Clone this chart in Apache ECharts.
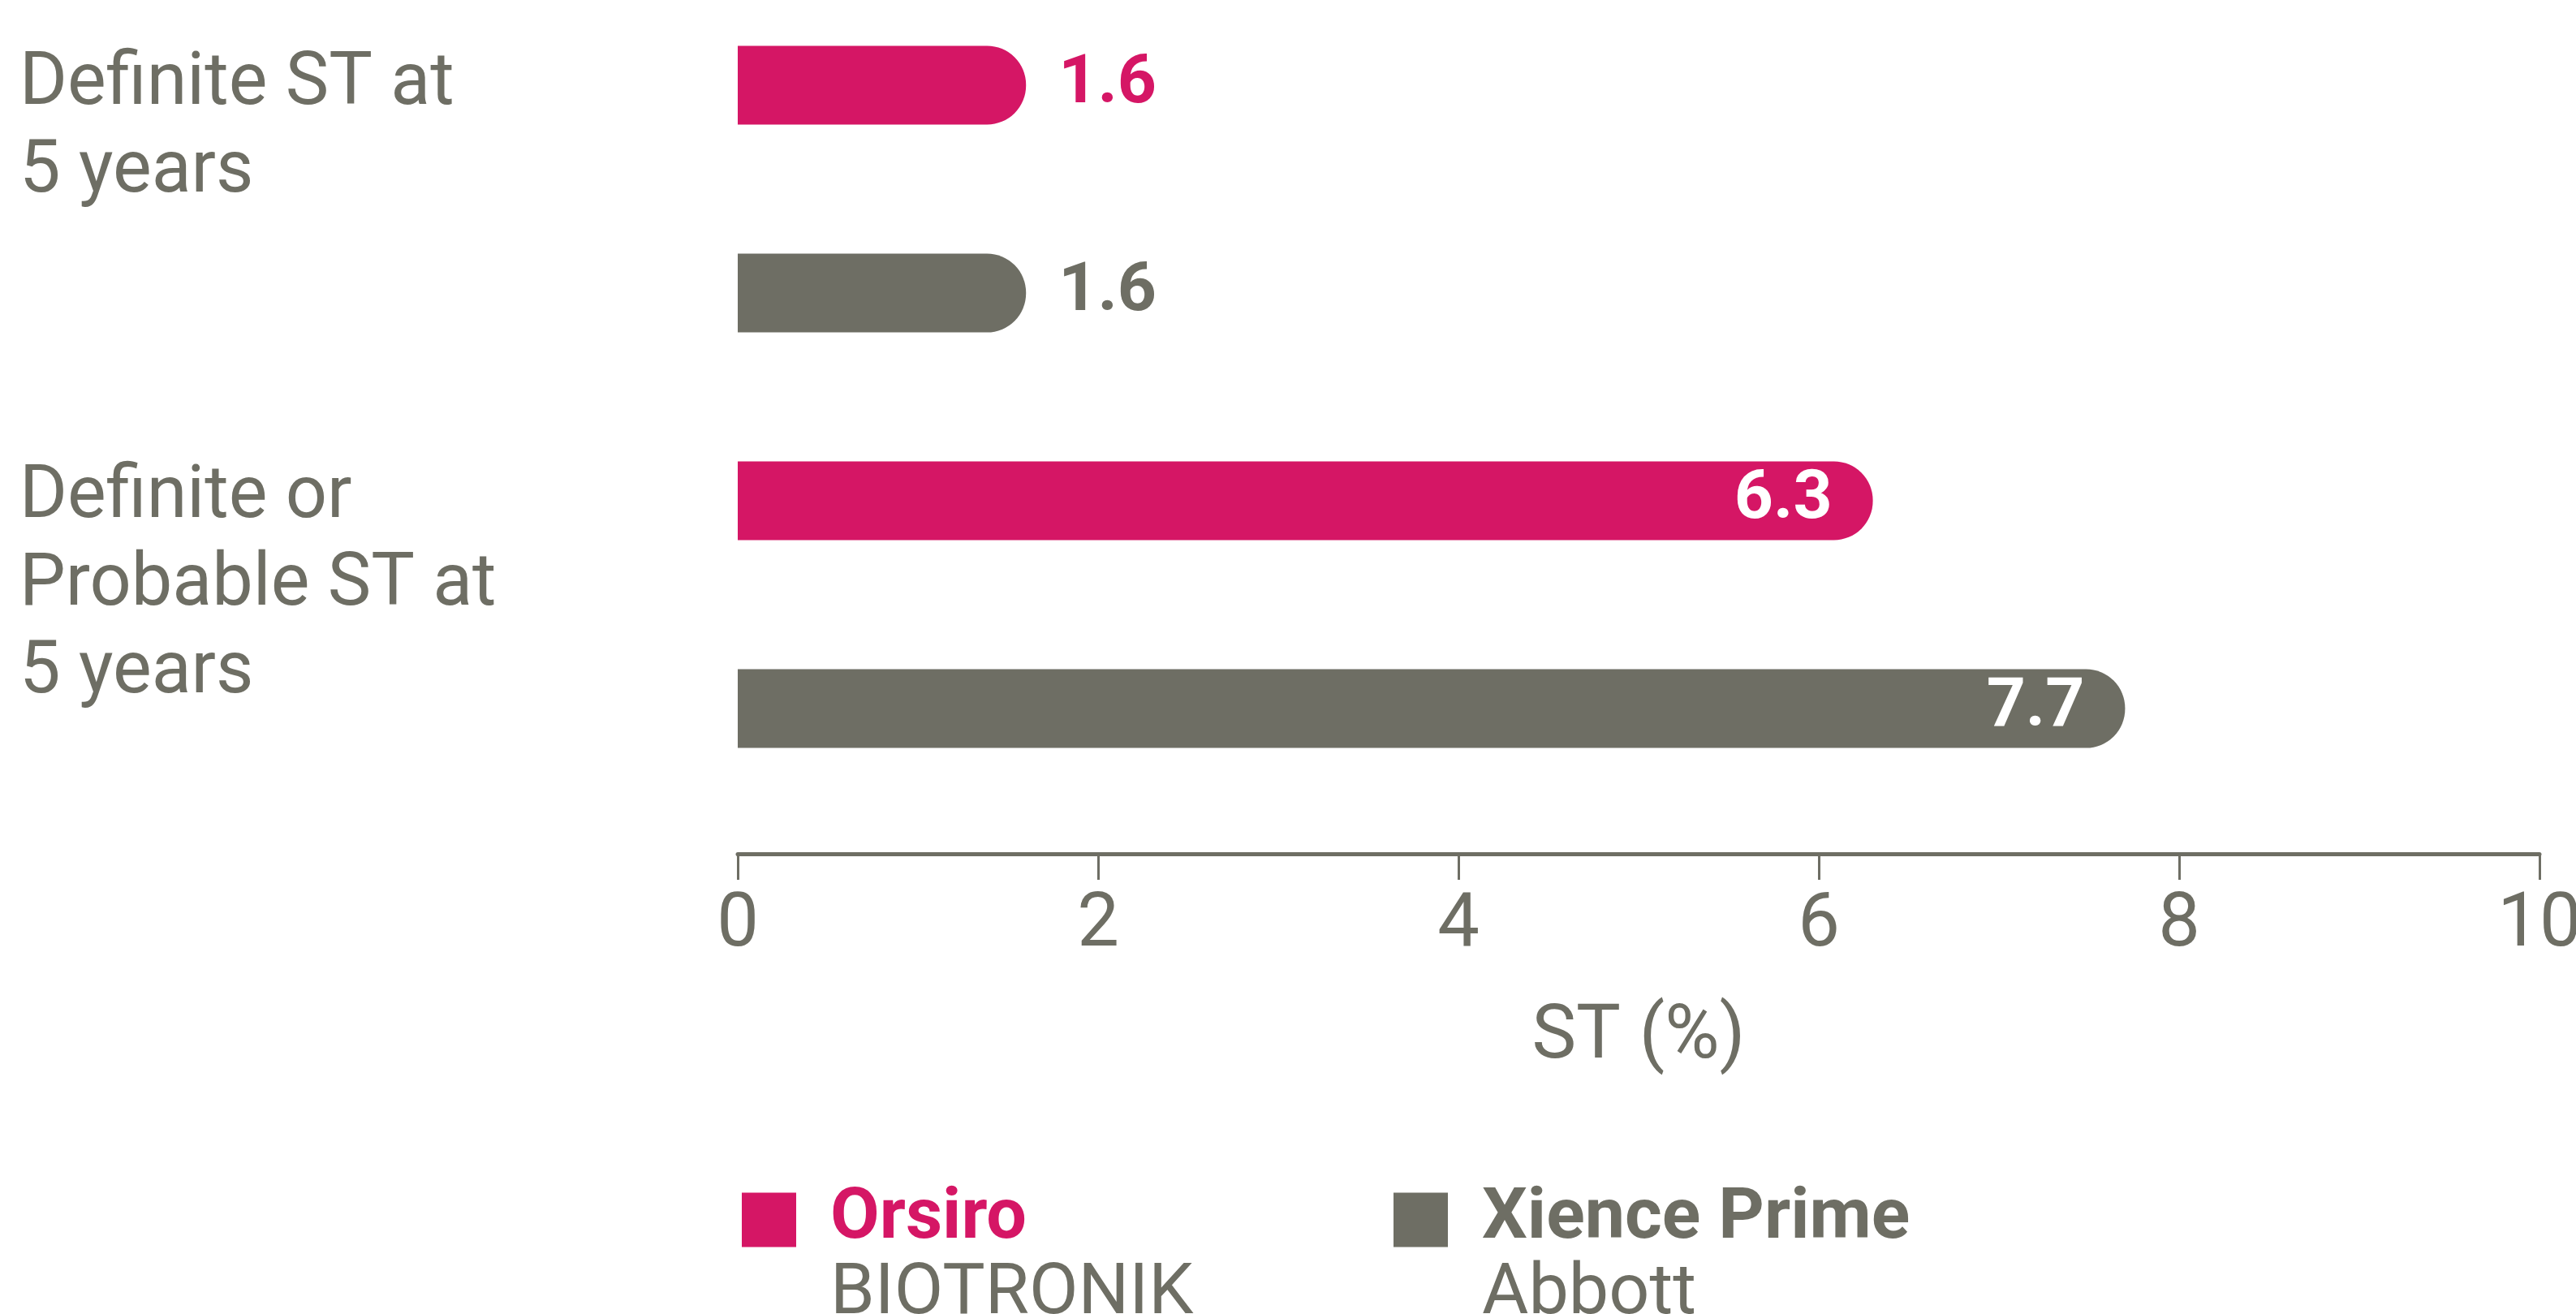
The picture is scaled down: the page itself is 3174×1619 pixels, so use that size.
<!DOCTYPE html>
<html>
<head>
<meta charset="utf-8">
<script src="https://cdn.jsdelivr.net/npm/echarts@6/dist/echarts.min.js"></script>
<style>
  html, body { margin: 0; padding: 0; background: #fff; }
  #chart { width: 3174px; height: 1619px; }
</style>
</head>
<body>
<div id="chart"></div>
<script>
// categories (top to bottom) and series values, ST in %
const categories = ['Definite ST at\n5 years', 'Definite or\nProbable ST at\n5 years'];
const orsiroValues = [1.6, 6.3];
const xienceValues = [1.6, 7.7];
const seriesNames = ['Orsiro', 'Xience Prime'];
const makers = ['BIOTRONIK', 'Abbott'];
const xTicks = [0, 2, 4, 6, 8, 10];
const axisName = 'ST (%)';

const PINK = '#d51665';
const GREY = '#6e6e64';
const FONT = 'Roboto';

const chart = echarts.init(document.getElementById('chart'));

// short bars get the number outside in the series colour, long ones inside in white
function barData(values, color) {
  return values.map(v => ({
    value: v,
    label: v > 3
      ? { position: 'insideRight', distance: 50, color: '#fff' }
      : { position: 'right', distance: 40, color: color }
  }));
}

function legendFor(i, color, left) {
  return {
    left: left,
    top: 1361,
    orient: 'horizontal',
    selectedMode: false,
    icon: 'rect',
    itemWidth: 67,
    itemHeight: 67,
    data: [seriesNames[i]],
    formatter: name => '{s| }\n{n|' + name + '}\n{s|' + makers[i] + '}',
    textStyle: {
      padding: [0, 0, 0, 37],
      rich: {
        n: { fontFamily: FONT, fontSize: 88, fontWeight: 'bold', color: color, lineHeight: 93 },
        s: { fontFamily: FONT, fontSize: 88, color: GREY, lineHeight: 93 }
      }
    }
  };
}

const option = {
  animation: false,
  backgroundColor: '#fff',
  grid: { left: 909, right: 45, top: -23, height: 1024, outerBoundsMode: 'none' },
  xAxis: {
    type: 'value',
    min: xTicks[0],
    max: xTicks[xTicks.length - 1],
    interval: 2,
    offset: 51,
    splitLine: { show: false },
    axisLine: { show: true, lineStyle: { color: GREY, width: 5 } },
    axisTick: { show: true, length: 32, lineStyle: { color: GREY, width: 3 } },
    axisLabel: { fontFamily: FONT, fontSize: 92, color: GREY, margin: 44 },
    name: axisName,
    nameLocation: 'middle',
    nameGap: 182,
    nameTextStyle: { fontFamily: FONT, fontSize: 92, color: GREY }
  },
  yAxis: {
    type: 'category',
    inverse: true,
    data: categories,
    axisLine: { show: false },
    axisTick: { show: false },
    axisLabel: { show: false }
  },
  legend: [legendFor(0, PINK, 909), legendFor(1, GREY, 1712)],
  graphic: [
    { type: 'text', left: 24, top: 51, style: { text: categories[0], fontFamily: FONT, fontSize: 90, lineHeight: 108, fill: GREY } },
    { type: 'text', left: 24, top: 560, style: { text: categories[1], fontFamily: FONT, fontSize: 90, lineHeight: 108, fill: GREY } }
  ],
  series: [
    {
      name: seriesNames[0],
      type: 'bar',
      data: barData(orsiroValues, PINK),
      barWidth: 97,
      barGap: '164%',
      barCategoryGap: '31%',
      itemStyle: { color: PINK, borderRadius: [0, 48, 48, 0] },
      label: { show: true, fontFamily: FONT, fontSize: 84, fontWeight: 'bold' }
    },
    {
      name: seriesNames[1],
      type: 'bar',
      data: barData(xienceValues, GREY),
      barWidth: 97,
      barGap: '164%',
      barCategoryGap: '31%',
      itemStyle: { color: GREY, borderRadius: [0, 48, 48, 0] },
      label: { show: true, fontFamily: FONT, fontSize: 84, fontWeight: 'bold' }
    }
  ]
};

chart.setOption(option);
</script>
</body>
</html>
